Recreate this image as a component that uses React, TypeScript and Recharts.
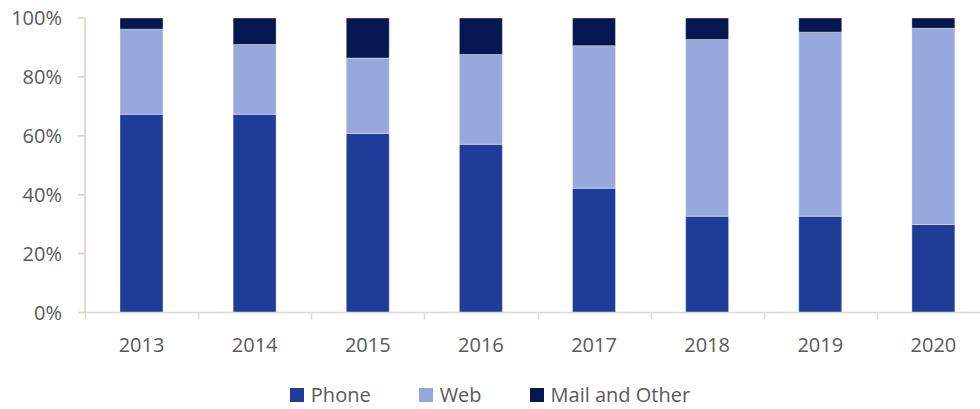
import { BarChart, Bar, XAxis, YAxis } from "recharts";

const years = ["2013", "2014", "2015", "2016", "2017", "2018", "2019", "2020"];
const phone = [67.3, 67.3, 60.8, 57.1, 42.2, 32.7, 32.7, 29.9];
const web = [28.9, 23.7, 25.6, 30.5, 48.4, 60.0, 62.5, 66.6];
const mailOther = [3.8, 9.0, 13.6, 12.4, 9.4, 7.3, 4.8, 3.5];
const yTicks = [0, 20, 40, 60, 80, 100];

const seriesNames = ["Phone", "Web", "Mail and Other"];
const seriesColors = ["#1f3c98", "#97a8dc", "#061750"];

const FONT = "'Open Sans', sans-serif";
const TEXT = "#595959";

const CHART_W = 990;
const Y_AXIS_W = 85;
const HALF_BAND = (CHART_W - Y_AXIS_W) / years.length / 2;

const data = years.map((year, i) => ({
  year,
  Phone: phone[i],
  Web: web[i],
  "Mail and Other": mailOther[i],
}));

// labels centred under bars, tick marks on the category boundaries
function YearTick(props: any) {
  const { x, y, payload } = props;
  const bx = Math.round(x - HALF_BAND) + 0.5;
  return (
    <g>
      <line x1={bx} y1={y} x2={bx} y2={y + 7} stroke="#d9d9d9" strokeWidth={1.5} />
      <text
        x={x}
        y={y + 39}
        textAnchor="middle"
        fill={TEXT}
        fontSize={20}
        fontFamily={FONT}
      >
        {payload.value}
      </text>
    </g>
  );
}

export default function App() {
  return (
    <div
      style={{
        position: "fixed",
        left: 0,
        top: 0,
        width: 980,
        height: 409,
        overflow: "hidden",
        background: "#ffffff",
      }}
    >
      <BarChart
        width={CHART_W}
        height={409}
        data={data}
        margin={{ top: 18, right: 0, bottom: 0, left: 0 }}
        barCategoryGap={0}
      >
        <YAxis
          width={Y_AXIS_W}
          domain={[0, 100]}
          ticks={yTicks}
          interval={0}
          tickFormatter={(v: number) => `${v}%`}
          axisLine={{ stroke: "#d8d2b8", strokeWidth: 1.5 }}
          tickLine={{ stroke: "#d8d2b8", strokeWidth: 1.5 }}
          tickSize={7}
          tickMargin={16}
          tick={{ fontSize: 20, fill: TEXT, fontFamily: FONT }}
        />
        <XAxis
          dataKey="year"
          height={96.5}
          axisLine={{ stroke: "#d9d9d9", strokeWidth: 1.5 }}
          tickLine={false}
          tickSize={0}
          tickMargin={0}
          interval={0}
          tick={<YearTick />}
        />
        {seriesNames.map((name, i) => (
          <Bar
            key={name}
            dataKey={name}
            stackId="a"
            fill={seriesColors[i]}
            barSize={43}
            stroke="#ffffff"
            strokeOpacity={0.5}
            strokeWidth={0.75}
            isAnimationActive={false}
          />
        ))}
      </BarChart>

      {/* Legend */}
      <div
        style={{
          position: "absolute",
          left: 0,
          top: 381,
          width: 980,
          display: "flex",
          justifyContent: "center",
          gap: 48,
          fontFamily: FONT,
          fontSize: 20,
          color: TEXT,
        }}
      >
        {seriesNames.map((name, i) => (
          <div key={name} style={{ display: "flex", alignItems: "center" }}>
            <span
              style={{
                width: 14,
                height: 14,
                background: seriesColors[i],
                marginRight: 7,
                display: "inline-block",
              }}
            />
            <span>{name}</span>
          </div>
        ))}
      </div>
    </div>
  );
}
